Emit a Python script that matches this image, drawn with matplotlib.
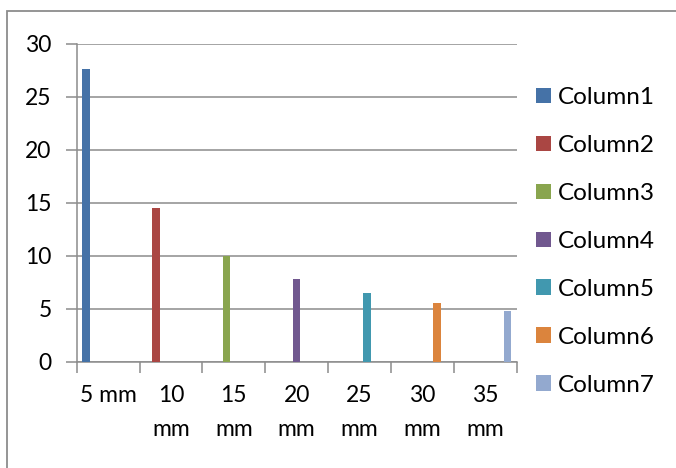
import matplotlib
matplotlib.use("Agg")
import matplotlib.pyplot as plt
from matplotlib.patches import Rectangle, Patch

# Data
categories = ["5 mm", "10\nmm", "15\nmm", "20\nmm", "25\nmm", "30\nmm", "35\nmm"]
series_names = ["Column1", "Column2", "Column3", "Column4", "Column5", "Column6", "Column7"]
# each series holds a single value, placed in its own category
series_values = [27.6, 14.5, 10.0, 7.8, 6.5, 5.5, 4.8]
colors = ["#4572A7", "#AA4643", "#89A54E", "#71588F", "#4198AF", "#DB843D", "#93A9CF"]
y_ticks = [0, 5, 10, 15, 20, 25, 30]

W, H = 676, 468
DPI = 100
plt.rcParams["font.family"] = ["Lato", "DejaVu Sans"]
FS = 16.5
FS_LEG = 17.5

fig = plt.figure(figsize=(W / DPI, H / DPI), dpi=DPI)
fig.patch.set_facecolor("white")

# chart border (right and bottom edges run off the canvas)
fig.add_artist(Rectangle((7 / W, -0.1), 1.1, (H - 11) / H + 0.1,
                         transform=fig.transFigure, fill=False,
                         edgecolor="#8C8C8C", linewidth=1.3))

left, right, top, bottom = 76.7, 516.5, 44.0, 361.7
ax = fig.add_axes([left / W, (H - bottom) / H, (right - left) / W, (bottom - top) / H])

n = len(series_names)
gap = 1.5
w = 1.0 / (n + gap)
for i, (name, val, c) in enumerate(zip(series_names, series_values, colors)):
    x = i + (i - (n - 1) / 2) * w
    ax.bar(x, val, width=w, color=c, label=name, zorder=3)

ax.set_xlim(-0.5, n - 0.5)
ax.set_ylim(0, 30)
ax.set_yticks(y_ticks)
ax.set_yticklabels([str(t) for t in y_ticks], fontsize=FS)
ax.yaxis.grid(True, color="#8C8C8C", linewidth=1.1, zorder=0)

# category labels centred, tick marks between categories
ax.set_xticks(range(n))
ax.set_xticklabels(categories, fontsize=FS, linespacing=1.72, va="top")
ax.set_xticks([k - 0.5 for k in range(n + 1)], minor=True)
ax.tick_params(axis="x", which="major", length=0, pad=17)
ax.tick_params(axis="x", which="minor", length=8, width=1.1, color="#8C8C8C", direction="out")
ax.tick_params(axis="y", length=8, width=1.1, color="#8C8C8C", direction="out", pad=10)

for s in ["top", "right"]:
    ax.spines[s].set_visible(False)
for s in ["left", "bottom"]:
    ax.spines[s].set_color("#8C8C8C")
    ax.spines[s].set_linewidth(1.1)

handles = [Patch(facecolor=c, edgecolor="none") for c in colors]
fig.legend(handles, series_names, loc="upper left",
           bbox_to_anchor=(536 / W, (H - 87) / H), frameon=False,
           fontsize=FS_LEG, handlelength=0.62, handleheight=0.62,
           handletextpad=0.3, labelspacing=1.11, borderaxespad=0, borderpad=0)

fig.savefig("out.png", dpi=DPI, facecolor="white")
